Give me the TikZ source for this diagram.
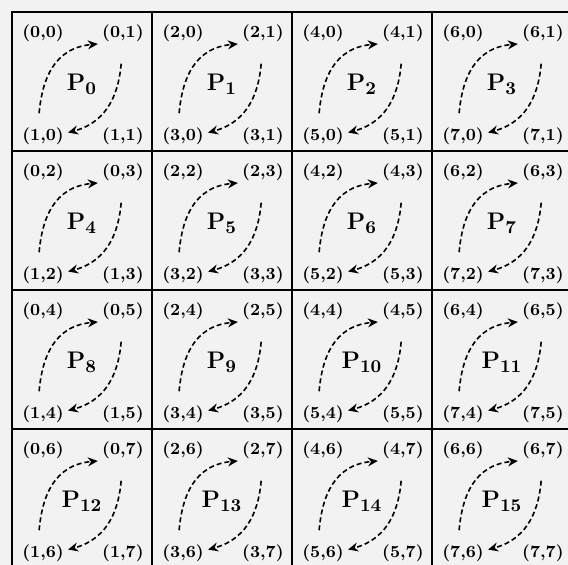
\documentclass[tikz,border=0pt]{standalone}
\usepackage{tikz}
\usetikzlibrary{arrows.meta,positioning,calc}
\definecolor{pagebg}{HTML}{F2F2F2}

\begin{document}
\begin{tikzpicture}[
  x=0.5pt, y=0.5pt,
  cell/.style={draw,line width=1pt,minimum width=70pt,minimum height=69.5pt,
               inner sep=0pt},
  coord/.style={font=\fontsize{8.5}{10}\selectfont\bfseries,inner sep=1pt},
  proc/.style={font=\fontsize{13}{15}\selectfont\bfseries,inner sep=1pt},
  flow/.style={-{Stealth[length=5pt,width=4.5pt]},thick,
               dash pattern=on 2.5pt off 1.5pt}
]
%% page: cut at right and bottom like the reference
\useasboundingbox (0,0) rectangle (568,-565);
\fill[pagebg] (0,0) rectangle (568,-565);

%% 4x4 cells, P0..P15, corner labels (x,y)
\foreach \n in {0,...,15} {
  \pgfmathtruncatemacro\col{mod(\n,4)}
  \pgfmathtruncatemacro\row{div(\n,4)}
  \pgfmathtruncatemacro\xa{2*\col}
  \pgfmathtruncatemacro\xb{2*\col+1}
  \pgfmathtruncatemacro\ya{2*\row}
  \pgfmathtruncatemacro\yb{2*\row+1}
  \node[cell] (cell\n) at (82+140*\col,-81.5-139*\row) {};
  \node[proc] (p\n) at ($(cell\n.center)+(0,-3)$) {$\mathbf{P}_{\mathbf{\n}}$};

  %% corner labels
  \node[coord,anchor=north west] (tl\n) at ($(cell\n.north west)+(9,-11)$) {(\xa,\ya)};
  \node[coord,anchor=north east] (tr\n) at ($(cell\n.north east)+(-7,-11)$) {(\xa,\yb)};
  \node[coord,anchor=south west] (bl\n) at ($(cell\n.south west)+(9,5)$)   {(\xb,\ya)};
  \node[coord,anchor=south east] (br\n) at ($(cell\n.south east)+(-7,5)$)  {(\xb,\yb)};

  %% bl -> tr (left arc), tr -> bl (right arc)
  \draw[flow,shorten <=6pt,shorten >=1pt,looseness=1.15] ($(bl\n.north)+(-5,0)$)
    to[out=85,in=185] (tr\n.south west);
  \draw[flow,shorten <=10pt,shorten >=1pt,looseness=1.1] (tr\n.south)
    to[out=-95,in=15] ($(bl\n.east)+(0,3)$);
}

\end{tikzpicture}
\end{document}
